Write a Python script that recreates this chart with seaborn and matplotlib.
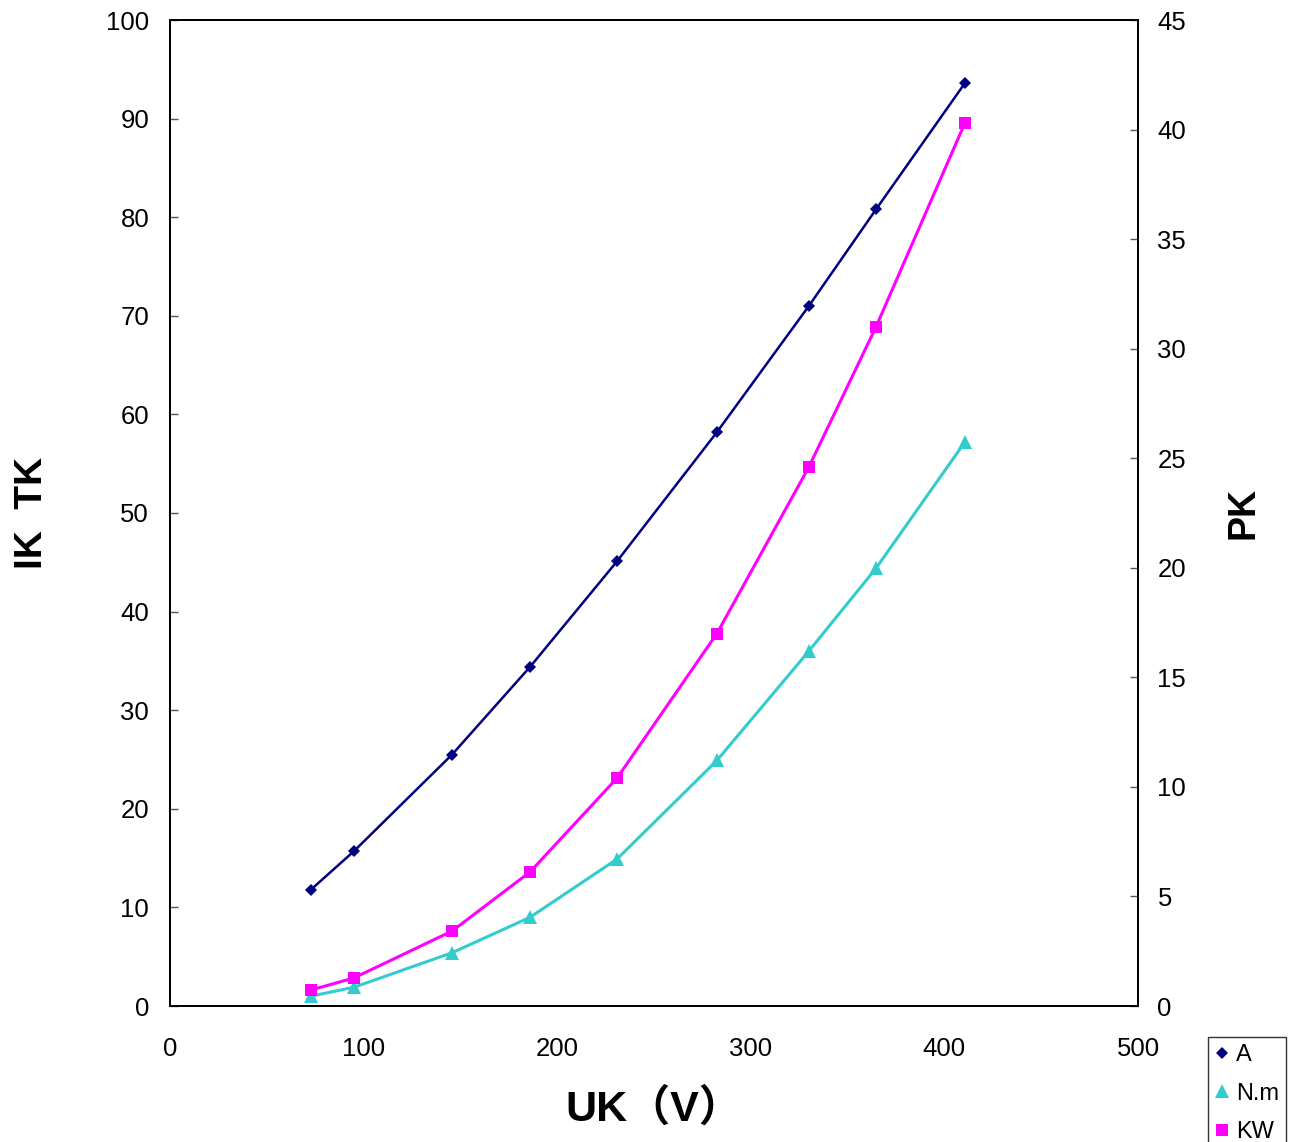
import matplotlib
matplotlib.use("Agg")
import matplotlib.pyplot as plt
import seaborn as sns
import pandas as pd

# values
uk = [72.8, 95.0, 145.7, 186.0, 230.9, 282.5, 330.0, 364.7, 410.6]
ik_a = [11.8, 15.7, 25.5, 34.4, 45.1, 58.2, 71.0, 80.8, 93.6]
tk_nm = [1.0, 1.9, 5.4, 9.0, 14.9, 24.9, 36.0, 44.4, 57.2]
pk_kw = [0.73, 1.28, 3.42, 6.12, 10.4, 17.0, 24.6, 31.0, 40.3]

df = pd.DataFrame({"UK": uk, "A": ik_a, "N.m": tk_nm, "KW": pk_kw})

sns.set_style("white")
plt.rcParams["font.family"] = ["Liberation Sans", "Noto Sans CJK SC", "DejaVu Sans"]
plt.rcParams["text.color"] = "black"
plt.rcParams["axes.labelcolor"] = "black"

fig = plt.figure(figsize=(12.98, 11.42), dpi=100)
ax = fig.add_axes([170 / 1298, 1 - 1006 / 1142, 968 / 1298, 986 / 1142])
ax2 = ax.twinx()

sns.lineplot(data=df, x="UK", y="A", ax=ax, color="#000080", lw=1.8,
             marker="D", markersize=6, markeredgewidth=0, label="A", legend=False)
sns.lineplot(data=df, x="UK", y="N.m", ax=ax, color="#33CCCC", lw=2.2,
             marker="^", markersize=10, markeredgewidth=0, label="N.m", legend=False)
sns.lineplot(data=df, x="UK", y="KW", ax=ax2, color="#FF00FF", lw=2.2,
             marker="s", markersize=9, markeredgewidth=0, label="KW", legend=False)

ax.set_xlim(0, 500)
ax.set_ylim(0, 100)
ax2.set_ylim(0, 45)
ax.set_xticks(range(0, 501, 100))
ax.set_yticks(range(0, 101, 10))
ax2.set_yticks(range(0, 46, 5))

for a in (ax, ax2):
    for s in a.spines.values():
        s.set_color("black")
        s.set_linewidth(1.3)
    a.tick_params(direction="in", length=6, width=1, colors="#555555",
                  labelcolor="black", labelsize=18.5)
ax.tick_params(axis="x", pad=22)
ax.tick_params(axis="y", pad=15)
ax2.tick_params(axis="y", pad=14)

ax.set_xlabel("UK（V）", fontsize=31, fontweight="bold", labelpad=20)
ax.set_ylabel("IK  TK", fontsize=28, fontweight="bold", labelpad=40)
ax2.set_ylabel("PK", fontsize=27, fontweight="bold", labelpad=28)

h1, l1 = ax.get_legend_handles_labels()
h2, l2 = ax2.get_legend_handles_labels()
leg = fig.legend(h1 + h2, l1 + l2, loc="upper left",
                 bbox_to_anchor=(1208 / 1298, 1 - 1037 / 1142),
                 fontsize=17, frameon=True, fancybox=False, handlelength=0.6,
                 handletextpad=0.3, borderpad=0.3, labelspacing=0.7,
                 borderaxespad=0)
leg.get_frame().set_edgecolor("black")
leg.get_frame().set_linewidth(1)
for h in leg.legend_handles:
    h.set_linestyle("none")

fig.savefig("out.png", dpi=100)
